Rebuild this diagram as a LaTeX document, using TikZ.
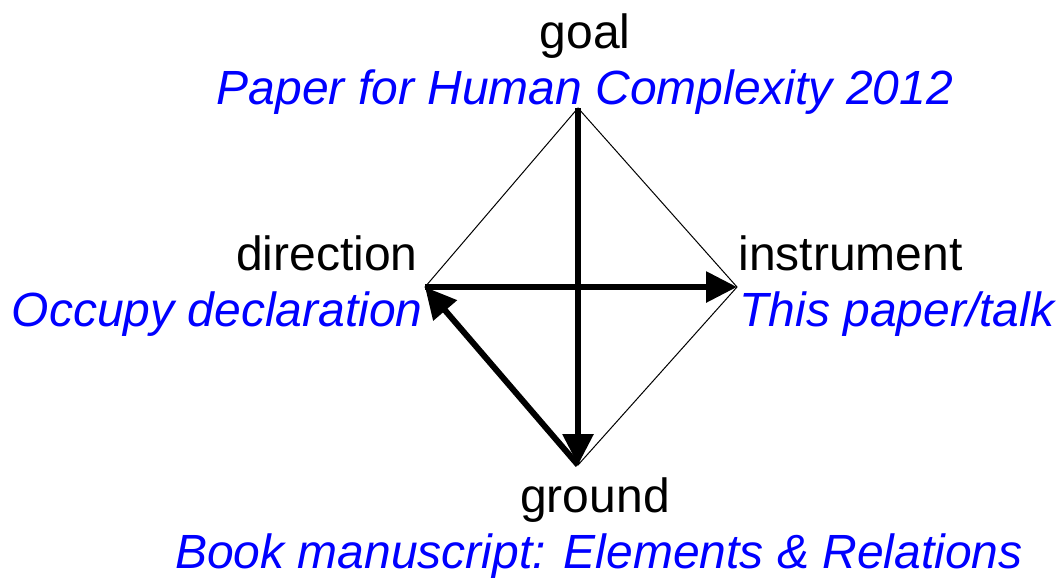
\documentclass[tikz,border=0pt]{standalone}
\usepackage{fontspec}
\setmainfont{Liberation Sans}
\usetikzlibrary{arrows.meta}
\tikzset{
    polename/.style={inner sep=0pt, font=\fontsize{24}{29}\selectfont},
    polenote/.style={inner sep=0pt, text=blue, font=\fontsize{24}{29}\selectfont\itshape},
    rimline/.style={line width=0.5pt, draw=black},
    flowarrow/.style={-{Triangle[length=15.5pt,width=15pt]}, line width=3pt, draw=black}
}
\begin{document}
\begin{tikzpicture}[x=0.5pt, y=-0.5pt]
    \useasboundingbox (0,0) rectangle (1064,580);
    % corners of the diamond
    \coordinate (goal) at (578,108);
    \coordinate (dir) at (425,287);
    \coordinate (instr) at (737,287);
    \coordinate (ground) at (578,465);

    % labels
    \node[polename, anchor=base] (goalname) at (585,48) {goal};
    \node[polenote, anchor=base] (goalnote) at (585,104) {Paper for Human Complexity 2012};
    \node[polename, anchor=base east] (dirname) at (418,270) {direction};
    \node[polenote, anchor=base east] (dirnote) at (423,326) {Occupy declaration};
    \node[polename, anchor=base west] (instrname) at (738,270) {instrument};
    \node[polenote, anchor=base west] (instrnote) at (739,326) {This paper/talk};
    \node[polename, anchor=base] (groundname) at (595,512) {ground};
    \node[polenote, anchor=base] (groundnote) at (599,568) {Book manuscript: Elements \& Relations};

    % thin rim
    \draw[rimline] (goal) -- (instr) -- (ground) -- (dir) -- cycle;

    % thick arrows
    \draw[flowarrow] (goal) -- (ground);
    \draw[flowarrow] (dir) -- (instr);
    \draw[flowarrow] (ground) -- (dir);
\end{tikzpicture}
\end{document}
